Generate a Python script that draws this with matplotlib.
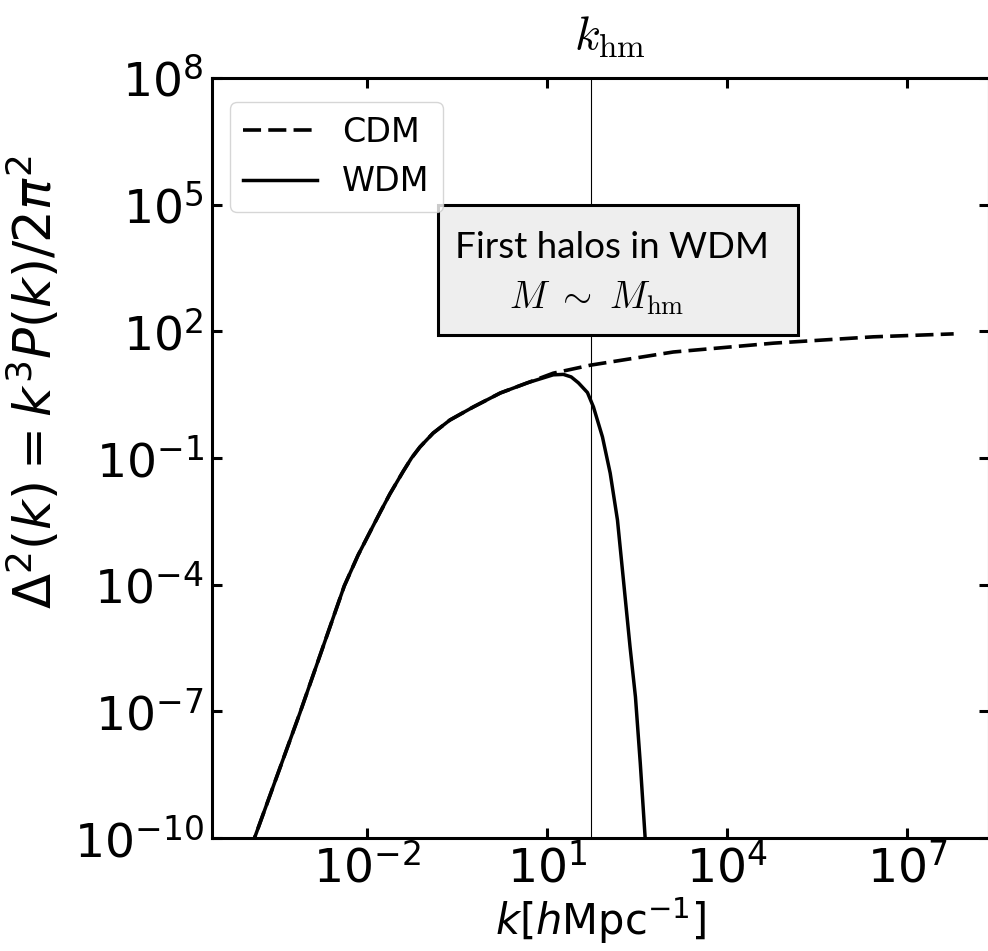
import matplotlib
matplotlib.use("Agg")
import matplotlib.pyplot as plt
from matplotlib.patches import Rectangle

# ---- data ----
k_wdm = [1.10e-4, 1.35e-4, 7.6e-4, 4.17e-3, 7.08e-3, 1.12e-2, 1.66e-2, 2.40e-2,
         3.98e-2, 5.5e-2, 7.59e-2, 0.126, 0.240, 0.589, 1.66, 4.68, 12.6, 18.6, 25.1,
         33.1, 46.8, 58.9, 83.2, 112, 148, 186, 240, 295, 355, 427, 479]
delta_wdm = [4.47e-11, 1.05e-10, 9.12e-8, 9.33e-5, 5.0e-4, 1.78e-3, 5.25e-3, 1.41e-2,
             4.79e-2, 0.10, 0.182, 0.389, 0.794, 1.62, 3.47, 6.03, 9.33, 9.55, 8.32,
             6.03, 3.55, 1.62, 0.316, 4.37e-2, 3.39e-3, 1.29e-4, 3.31e-6, 2.19e-7,
             5.89e-9, 1.05e-10, 1.26e-11]

k_cdm = [1.10e-4, 1.35e-4, 7.6e-4, 4.17e-3, 7.08e-3, 1.12e-2, 1.66e-2, 2.40e-2,
         3.98e-2, 5.5e-2, 7.59e-2, 0.126, 0.240, 0.589, 1.66, 4.68, 12.6, 52.5, 1259,
         5.89e4, 2.69e6, 5.89e7]
delta_cdm = [4.47e-11, 1.05e-10, 9.12e-8, 9.33e-5, 5.0e-4, 1.78e-3, 5.25e-3, 1.41e-2,
             4.79e-2, 0.10, 0.182, 0.389, 0.794, 1.62, 3.47, 6.03, 10.2, 15.8, 32.4,
             52.5, 74.1, 87.1]

k_hm = 53.0
x_ticks = [1e-2, 1e1, 1e4, 1e7]
y_ticks = [1e-10, 1e-7, 1e-4, 1e-1, 1e2, 1e5, 1e8]
x_limits = (10 ** -4.583, 10 ** 8.35)
y_limits = (1e-10, 1e8)

fig = plt.figure(figsize=(9.88, 9.51), dpi=100)
W, H = 988, 951
ax = fig.add_axes([212 / W, 1 - 838 / H, (988.5 - 212) / W, (838 - 78) / H])

ax.plot(k_cdm, delta_cdm, color="black", lw=2.6, ls=(0, (5, 2)), label="CDM")
ax.plot(k_wdm, delta_wdm, color="black", lw=2.5, label="WDM")
ax.axvline(k_hm, color="black", lw=0.8)

ax.set_xscale("log")
ax.set_yscale("log")
ax.set_xlim(*x_limits)
ax.set_ylim(*y_limits)
ax.set_xticks(x_ticks)
ax.set_yticks(y_ticks)
ax.minorticks_off()
ax.tick_params(which="major", direction="in", length=7, width=2.2,
               top=True, right=True, labelsize=34, pad=5)
ax.tick_params(axis="y", pad=6)
for s in ax.spines.values():
    s.set_linewidth(2.2)

ax.set_xlabel(r"$k[h\mathrm{Mpc}^{-1}]$", fontsize=30, labelpad=2)
ax.set_ylabel(r"$\Delta^2(k) = k^3P(k)/2\pi^2$", fontsize=37)
ax.yaxis.set_label_coords(-0.192, 0.60)

leg = ax.legend(loc="upper left", bbox_to_anchor=(0.0232, 0.968), borderaxespad=0,
                fontsize=24, handlelength=2.2, handletextpad=0.75)

# annotation box
ax.add_patch(Rectangle((0.2906, 0.6618), 0.7545 - 0.2906, 0.8329 - 0.6618,
                       transform=ax.transAxes, facecolor="#eeeeee",
                       edgecolor="black", lw=2.2, zorder=5))
ax.text(0.515, 0.763, "First halos in WDM", transform=ax.transAxes,
        ha="center", va="baseline", fontsize=26.5, family="Lato", zorder=6)
ax.text(0.495, 0.697, r"$M\ \sim\ M_{\rm hm}$", transform=ax.transAxes,
        ha="center", va="baseline", fontsize=27, math_fontfamily="cm", zorder=6)

ax.annotate(r"$k_{\rm hm}$", xy=(k_hm, 1.0), xycoords=("data", "axes fraction"),
            xytext=(14, 13), textcoords="offset points", ha="center", va="bottom",
            fontsize=34, math_fontfamily="cm", annotation_clip=False)

fig.savefig("out.png", dpi=100)
